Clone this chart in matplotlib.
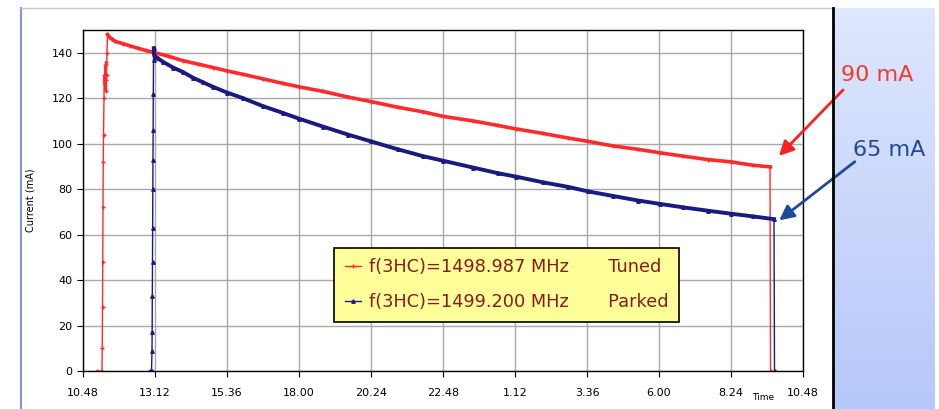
import matplotlib
matplotlib.use("Agg")
import matplotlib.pyplot as plt
import numpy as np
from matplotlib.lines import Line2D

# time in minutes after 10:48
t_tuned = [28, 38, 38.5, 39, 39.5, 40, 40.5, 41, 42, 42.5, 43, 43.5, 44, 44.5, 45, 45.5, 46, 46.5, 47, 48, 49,
           52, 58, 64, 80, 94, 110, 125, 144, 170, 200, 230, 260, 288, 320, 360, 400, 432, 480, 530, 576,
           630, 680, 720, 780, 830, 866, 920, 970, 1010, 1060, 1110, 1154, 1200, 1250, 1296, 1340, 1374, 1375]
i_tuned = [0, 0, 10, 28, 48, 72, 92, 104, 120, 130, 126, 134, 129, 124, 135, 128, 136, 123, 130, 140, 148,
           147, 146, 145, 144, 143, 142, 141, 140, 138.5, 136.5, 135, 133.5, 132, 130.5, 128.5, 126.5, 125, 123, 120.5, 118.5,
           116, 114, 112, 110, 108, 106.5, 104.5, 102.5, 101, 99, 97.5, 96, 94.5, 93, 92, 90.5, 89.8, 0]

t_parked = [133, 137, 138, 138.3, 138.6, 139, 139.3, 139.6, 140, 140.3, 140.6, 141, 141.5, 142, 144, 150, 160,
            180, 200, 220, 240, 260, 288, 320, 360, 400, 432, 480, 530, 576, 630, 680, 720, 780, 830, 866,
            920, 970, 1010, 1060, 1110, 1154, 1200, 1250, 1296, 1340, 1382, 1383]
i_parked = [0, 0, 9, 17, 33, 48, 63, 80, 93, 106, 122, 137, 142, 139.5, 138.5, 137.5, 136,
            133.5, 131.5, 129, 127, 125, 122.5, 120, 116.5, 113.5, 111, 107.5, 104, 101, 97.5, 94.5, 92.5, 89.5, 87, 85.5,
            83, 81, 79, 77, 75, 73.5, 72, 70.5, 69.2, 68, 66.8, 0]

tick_pos = [0, 144, 288, 432, 576, 720, 864, 1008, 1152, 1296, 1440]
tick_labels = ['10.48', '13.12', '15.36', '18.00', '20.24', '22.48', '1.12', '3.36', '6.00', '8.24', '10.48']

red = '#ff2a2a'
navy = '#1a1a80'

fig = plt.figure(figsize=(9.39, 4.09), dpi=100)

# right blue panel with gradient
pan = fig.add_axes([834/939, 0, 101/939, 401/409])
grad = np.linspace(0, 1, 100).reshape(-1, 1)
c_top = np.array([0xde, 0xe7, 0xfd]) / 255
c_bot = np.array([0xb6, 0xc8, 0xfa]) / 255
img = c_top[None, None, :] * (1 - grad[:, :, None]) + c_bot[None, None, :] * grad[:, :, None]
pan.imshow(img, aspect='auto', extent=[0, 1, 0, 1])
pan.axis('off')

# frame lines
fig.add_artist(Line2D([21/939, 21/939], [0, 401/409], color='#7a96e0', lw=1.5))
fig.add_artist(Line2D([21/939, 833/939], [401/409, 401/409], color='#c8c8c8', lw=1))
fig.add_artist(Line2D([833/939, 833/939], [0, 401/409], color='black', lw=2))

ax = fig.add_axes([83/939, 1 - 371/409, 720/939, 341/409])

ax.plot(t_tuned, i_tuned, color=red, lw=1, marker='+', ms=3, mew=1,
        label='f(3HC)=1498.987 MHz       Tuned')
ax.plot(t_parked, i_parked, color=navy, lw=1, marker='^', ms=2.5,
        label='f(3HC)=1499.200 MHz       Parked')
# the dense data makes the decay part look thick
ax.plot(t_tuned[20:-1], i_tuned[20:-1], color=red, lw=2.6, zorder=3)
ax.plot(t_parked[12:-1], i_parked[12:-1], color=navy, lw=2.8, zorder=3)

ax.set_xlim(0, 1440)
ax.set_ylim(0, 150)
ax.set_xticks(tick_pos)
ax.set_xticklabels(tick_labels)
ax.set_yticks(range(0, 141, 20))
ax.grid(True, color='#a8a8a8', lw=1)
ax.set_axisbelow(True)
ax.tick_params(labelsize=8, length=4, direction='out')
ax.tick_params(axis='x', pad=8)
for s in ax.spines.values():
    s.set_color('black')
    s.set_linewidth(1)

ax.set_ylabel('Current (mA)', fontsize=7)
ax.yaxis.set_label_coords(-0.066, 0.5)
ax.text(0.944, -0.078, 'Time', transform=ax.transAxes, fontsize=6.5, ha='center', va='center')

leg = ax.legend(loc='lower left', bbox_to_anchor=(0.349, 0.144), borderaxespad=0, fontsize=12.8,
                frameon=True, fancybox=False, edgecolor='black', facecolor='#ffff99', framealpha=1,
                labelspacing=0.95, handlelength=0.9, handletextpad=0.45, borderpad=0.6, markerscale=1)
leg.get_frame().set_linewidth(1.2)
for txt in leg.get_texts():
    txt.set_color('#8b1a1a')

# annotations
ax.annotate('', xy=(777/939, 1 - 158/409), xytext=(845/939, 1 - 88/409),
            xycoords='figure fraction', textcoords='figure fraction',
            arrowprops=dict(arrowstyle='-|>', color='#ff2020', lw=2, mutation_scale=22))
ax.annotate('', xy=(777/939, 1 - 222/409), xytext=(857/939, 1 - 160/409),
            xycoords='figure fraction', textcoords='figure fraction',
            arrowprops=dict(arrowstyle='-|>', color='#1f4a9a', lw=2, mutation_scale=22))
fig.text(877/939, 1 - 75/409, '90 mA', color='#f03a2a', fontsize=16, ha='center', va='center')
fig.text(889/939, 1 - 150/409, '65 mA', color='#1f4a9a', fontsize=16, ha='center', va='center')

fig.savefig('out.png', dpi=100)
